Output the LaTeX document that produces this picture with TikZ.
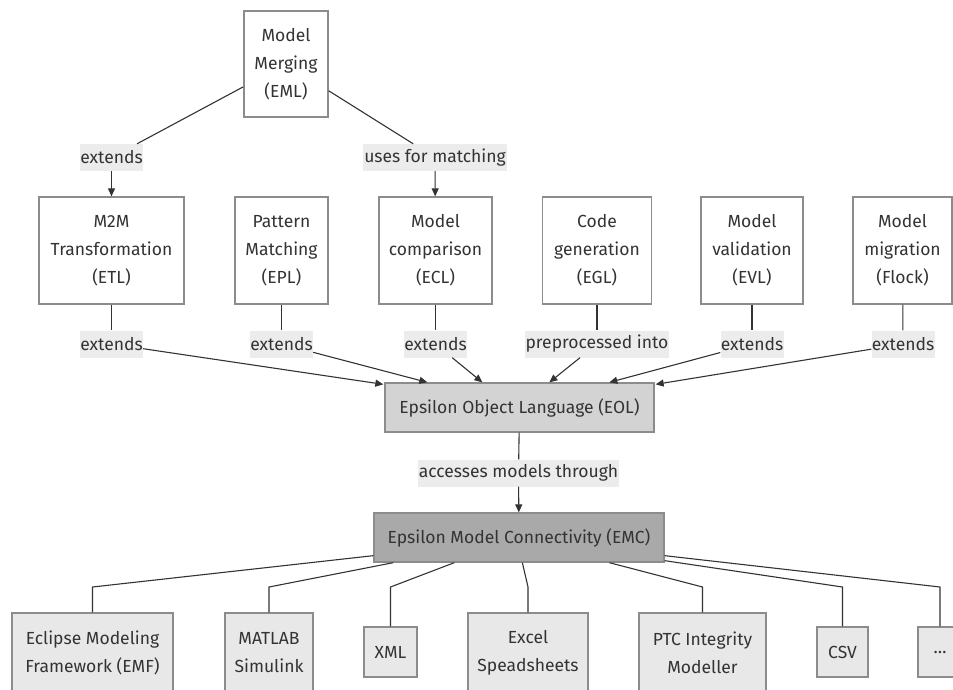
\documentclass[tikz,border=0pt]{standalone}
\usepackage{fontspec}
\setmainfont{Fira Sans}
\usetikzlibrary{arrows.meta,calc}

\definecolor{ink}{HTML}{333333}
\definecolor{frame}{HTML}{8C8C8C}
\definecolor{labelbg}{HTML}{ECECEC}
\definecolor{eolfill}{HTML}{D3D3D3}
\definecolor{emcfill}{HTML}{A9A9A9}
\definecolor{backfill}{HTML}{E8E8E8}

\tikzset{
  box/.style={draw=frame, line width=1.3pt, fill=white, text=ink, align=center,
    inner sep=0pt, font=\fontsize{17.5}{28}\selectfont},
  langbox/.style={box, minimum height=107pt},
  eolbox/.style={box, fill=eolfill, minimum height=49pt},
  emcbox/.style={box, fill=emcfill, minimum height=49pt},
  backbox/.style={box, fill=backfill, minimum height=80pt},
  smallback/.style={box, fill=backfill, minimum height=50pt},
  edgelabel/.style={fill=labelbg, text=ink, inner sep=0pt, minimum height=27pt,
    font=\fontsize{17.5}{20}\selectfont},
  link/.style={draw=ink, line width=1.1pt},
  arrowlink/.style={link, -{Triangle[length=8pt,width=7pt]}},
}

\begin{document}
\begin{tikzpicture}[x=1pt, y=-1pt]
  \clip (0,0) rectangle (953,689);
  \useasboundingbox (0,0) rectangle (953,689);

  % merging language at the top
  \node[box, minimum width=84pt, minimum height=106pt] (eml) at (286,64)
    {Model\\Merging\\(EML)};

  % task-specific languages
  \node[langbox, minimum width=145pt] (etl) at (111.5,250.5) {M2M\\Transformation\\(ETL)};
  \node[langbox, minimum width=93pt]  (epl) at (281.5,250.5) {Pattern\\Matching\\(EPL)};
  \node[langbox, minimum width=113pt] (ecl) at (435.5,250.5) {Model\\comparison\\(ECL)};
  \node[langbox, minimum width=109pt] (egl) at (597,250.5)   {Code\\generation\\(EGL)};
  \node[langbox, minimum width=102pt] (evl) at (752,250.5)   {Model\\validation\\(EVL)};
  \node[langbox, minimum width=99pt]  (flk) at (902.5,250.5) {Model\\migration\\(Flock)};

  % core language and connectivity layer
  \node[eolbox, minimum width=269pt] (eol) at (519.5,407.5) {Epsilon Object Language (EOL)};
  \node[emcbox, minimum width=290pt] (emc) at (519,537.5) {Epsilon Model Connectivity (EMC)};

  % model technologies
  \node[backbox, minimum width=161pt] (emf) at (92.5,653)  {Eclipse Modeling\\Framework (EMF)};
  \node[backbox, minimum width=88pt]  (mat) at (269,653)   {MATLAB\\Simulink};
  \node[smallback, minimum width=53pt] (xml) at (390.5,652) {XML};
  \node[backbox, minimum width=120pt] (xls) at (528,653)   {Excel\\Speadsheets};
  \node[backbox, minimum width=127pt] (ptc) at (702.5,653) {PTC Integrity\\Modeller};
  \node[smallback, minimum width=51pt] (csv) at (842.5,652) {CSV};
  \node[smallback, minimum width=44pt] (etc) at (940,652)  {…};

  % edge labels
  \node[edgelabel, minimum width=63pt]  (l-eml-etl) at (111.5,157.5) {extends};
  \node[edgelabel, minimum width=144pt] (l-eml-ecl) at (435,157.5)   {uses for matching};
  \node[edgelabel, minimum width=63pt]  (l-etl) at (111.5,344) {extends};
  \node[edgelabel, minimum width=63pt]  (l-epl) at (281.5,344) {extends};
  \node[edgelabel, minimum width=63pt]  (l-ecl) at (435.5,344) {extends};
  \node[edgelabel, minimum width=144pt] (l-egl) at (597,344)   {preprocessed into};
  \node[edgelabel, minimum width=63pt]  (l-evl) at (752,344)   {extends};
  \node[edgelabel, minimum width=63pt]  (l-flk) at (903,344)   {extends};
  \node[edgelabel, minimum width=201pt] (l-emc) at (518.5,473) {accesses models through};

  % merging relations
  \draw[link] (eml) -- (l-eml-etl);
  \draw[arrowlink] (l-eml-etl) -- (etl);
  \draw[link] (eml) -- (l-eml-ecl);
  \draw[arrowlink] (l-eml-ecl) -- (ecl);

  % arrival points on the top edge of EOL
  \coordinate (in-etl) at ($(eol.north west)+(-1,2)$);
  \coordinate (in-epl) at ($(eol.north west)+(43,0)$);
  \coordinate (in-ecl) at ($(eol.north west)+(98,0)$);
  \coordinate (in-egl) at ($(eol.north west)+(165,0)$);
  \coordinate (in-evl) at ($(eol.north west)+(225,0)$);
  \coordinate (in-flk) at ($(eol.north east)+(1,2)$);

  \foreach \l in {etl,epl,ecl,egl,evl,flk}{
    \draw[link] (\l) -- (l-\l);
    \draw[arrowlink] (l-\l) -- (in-\l);
  }

  % EOL to EMC
  \draw[link] (eol) -- (l-emc);
  \draw[arrowlink] (l-emc) -- (emc);

  % fan-out from EMC to the model technologies
  \coordinate (out-emf) at ($(emc.south west)+(0,-7)$);
  \coordinate (out-mat) at ($(emc.south west)+(20,0)$);
  \coordinate (out-xml) at ($(emc.south west)+(81,0)$);
  \coordinate (out-xls) at ($(emc.south west)+(149,0)$);
  \coordinate (out-ptc) at ($(emc.south west)+(236,0)$);
  \coordinate (out-csv) at ($(emc.south east)+(0,-2)$);
  \coordinate (out-etc) at ($(emc.south east)+(0,-7)$);
  \foreach \t in {emf,mat,xml,xls,ptc,csv,etc}{
    \draw[link] (out-\t) -- (\t.north |- 0,587) -- (\t.north);
  }
\end{tikzpicture}
\end{document}
